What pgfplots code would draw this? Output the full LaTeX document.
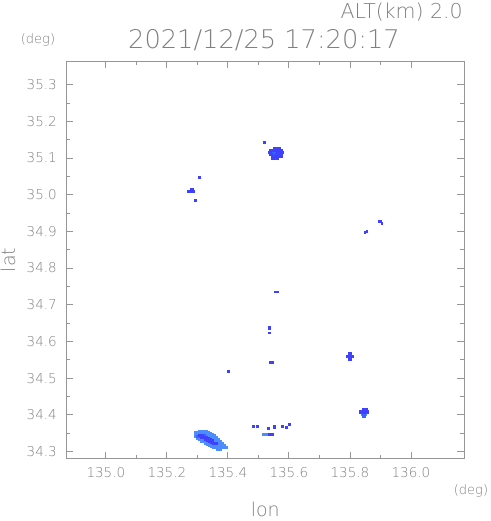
\documentclass[border=0pt]{standalone}
\usepackage{pgfplots}
\pgfplotsset{compat=1.18}
\usepackage{fontspec}
\newfontfamily\hfont{DejaVu Sans ExtraLight}
\definecolor{c1}{RGB}{64,64,255}
\definecolor{c2}{RGB}{51,102,255}
\definecolor{c3}{RGB}{77,140,255}
\definecolor{txt}{RGB}{128,128,128}
\definecolor{axg}{RGB}{150,150,150}
\begin{document}
\begin{tikzpicture}
\begin{axis}[
  scale only axis, width=397.5bp, height=397bp,
  xmin=134.871, xmax=136.174, ymin=34.281, ymax=35.363,
  xtick={135.0,135.2,135.4,135.6,135.8,136.0},
  ytick={34.3,34.4,34.5,34.6,34.7,34.8,34.9,35.0,35.1,35.2,35.3},
  minor x tick num=1, minor y tick num=1,
  major tick length=7bp, minor tick length=4bp,
  tick align=inside,
  axis line style={draw=axg, line width=0.8bp},
  every tick/.style={draw=axg, line width=0.8bp},
  tick label style={font=\hfont\fontsize{13.5bp}{16bp}\selectfont, text=txt, inner sep=0pt},
  xticklabel style={anchor=center, yshift=-14.5bp},
  yticklabel style={anchor=east, xshift=-9.5bp},
  /pgf/number format/.cd, fixed, fixed zerofill, precision=1, assume math mode=true, /pgfplots/.cd,
  xlabel={lon}, ylabel={lat},
  label style={font=\hfont\fontsize{19bp}{22bp}\selectfont, text=txt, inner sep=0pt},
  xlabel style={at={(axis description cs:0.5,-0.1290)}, anchor=center},
  ylabel style={at={(axis description cs:-0.1472,0.5)}, anchor=center},
  title={2021/12/25 17:20:17},
  title style={font=\hfont\fontsize{25.7bp}{30bp}\selectfont, text=txt, inner sep=0pt, at={(axis description cs:0.4969,1.039)}, anchor=center},
  clip=false,
  every axis plot/.append style={only marks, mark=square*, mark options={line width=0pt}},
]
% big SW blob, light
\addplot[color=c3, mark size=1.3bp] coordinates {
(135.2951,34.3518) (135.2951,34.3463) (135.2951,34.3409)
(135.3016,34.3518) (135.3016,34.3463) (135.3016,34.3354)
(135.3082,34.3545) (135.3082,34.3490) (135.3082,34.3381) (135.3082,34.3327)
(135.3148,34.3545) (135.3148,34.3490) (135.3148,34.3327) (135.3148,34.3272)
(135.3213,34.3545) (135.3213,34.3490) (135.3213,34.3327) (135.3213,34.3272)
(135.3279,34.3545) (135.3279,34.3490) (135.3279,34.3436) (135.3279,34.3272) (135.3279,34.3218)
(135.3344,34.3518) (135.3344,34.3463) (135.3344,34.3409) (135.3344,34.3245) (135.3344,34.3191)
(135.3410,34.3490) (135.3410,34.3436) (135.3410,34.3381) (135.3410,34.3218) (135.3410,34.3163)
(135.3475,34.3463) (135.3475,34.3409) (135.3475,34.3354) (135.3475,34.3191) (135.3475,34.3136)
(135.3541,34.3436) (135.3541,34.3381) (135.3541,34.3327) (135.3541,34.3272) (135.3541,34.3163) (135.3541,34.3109)
(135.3607,34.3381) (135.3607,34.3327) (135.3607,34.3272) (135.3607,34.3163) (135.3607,34.3109)
(135.3672,34.3327) (135.3672,34.3272) (135.3672,34.3218) (135.3672,34.3163) (135.3672,34.3109) (135.3672,34.3054)
(135.3738,34.3272) (135.3738,34.3218) (135.3738,34.3163) (135.3738,34.3109) (135.3738,34.3054)
(135.3803,34.3218) (135.3803,34.3163) (135.3803,34.3109)
(135.3869,34.3163) (135.3869,34.3109)
(135.3934,34.3109)
(135.5180,34.3463) (135.5279,34.3463)
(135.8426,34.4008) (135.8492,34.4008)
};
% mid colour
\addplot[color=c2, mark size=1.3bp] coordinates {
(135.3213,34.3436) (135.3016,34.3409)
(135.5443,35.1147) (135.5508,35.1147) (135.5574,35.1147) (135.5475,35.1093) (135.5541,35.1093)
(135.8459,34.3967)
};
% dark cells
\addplot[color=c1, mark size=1.3bp] coordinates {
(135.3082,34.3436)
(135.3148,34.3436) (135.3148,34.3381)
(135.3213,34.3381)
(135.3279,34.3381) (135.3279,34.3327)
(135.3344,34.3354) (135.3344,34.3300)
(135.3410,34.3327) (135.3410,34.3272)
(135.3475,34.3300) (135.3475,34.3245)
(135.3541,34.3218)
(135.3607,34.3218)
(135.5541,35.1256) (135.5607,35.1256) (135.5672,35.1256)
(135.5410,35.1202) (135.5475,35.1202) (135.5541,35.1202) (135.5607,35.1202) (135.5672,35.1202) (135.5738,35.1202)
(135.5377,35.1147) (135.5639,35.1147) (135.5705,35.1147) (135.5770,35.1147)
(135.5410,35.1093) (135.5607,35.1093) (135.5672,35.1093) (135.5738,35.1093)
(135.5475,35.1038) (135.5541,35.1038) (135.5607,35.1038) (135.5738,35.1038)
(135.5475,35.0984) (135.5607,35.0984)
(135.2721,35.0084) (135.2787,35.0084) (135.2852,35.0084) (135.2820,35.0139)
(135.8000,34.5657) (135.7934,34.5589) (135.8000,34.5589) (135.8082,34.5589) (135.8000,34.5520)
(135.8459,34.4144) (135.8525,34.4144) (135.8361,34.4076) (135.8426,34.4076) (135.8492,34.4076) (135.8574,34.4076)
};
% small isolated echoes
\addplot[color=c1, mark size=0.9bp] coordinates {
(135.5213,35.1420)
(135.3082,35.0466) (135.2951,34.9839)
(135.8951,34.9280) (135.9016,34.9267) (135.9049,34.9213)
(135.8492,34.8967) (135.8557,34.8995)
(135.5574,34.7346) (135.5639,34.7346)
(135.5361,34.6392) (135.5361,34.6338) (135.5377,34.6229)
(135.5410,34.5425) (135.5459,34.5425)
(135.4033,34.5180)
(135.4852,34.3673) (135.4984,34.3673) (135.5321,34.3619)
(135.5541,34.3673) (135.5541,34.3640)
(135.5803,34.3681) (135.5934,34.3654) (135.6010,34.3736)
(135.5361,34.3463) (135.5452,34.3463)
};
\node[font=\hfont\fontsize{20.5bp}{24bp}\selectfont, text=txt, inner sep=0pt, anchor=east] at (axis description cs:0.9975,1.1247) {ALT(km) 2.0};
\node[font=\hfont\fontsize{13bp}{16bp}\selectfont, text=txt, inner sep=0pt, anchor=center] at (axis description cs:-0.0717,1.0542) {(deg)};
\node[font=\hfont\fontsize{13bp}{16bp}\selectfont, text=txt, inner sep=0pt, anchor=center] at (axis description cs:1.0176,-0.0819) {(deg)};
\coordinate (sw) at (axis description cs:0,0);
\end{axis}
\pgfresetboundingbox
\path (sw) ++(-66.5bp,-62.5bp) rectangle ++(491bp,521bp);
\end{tikzpicture}
\end{document}
